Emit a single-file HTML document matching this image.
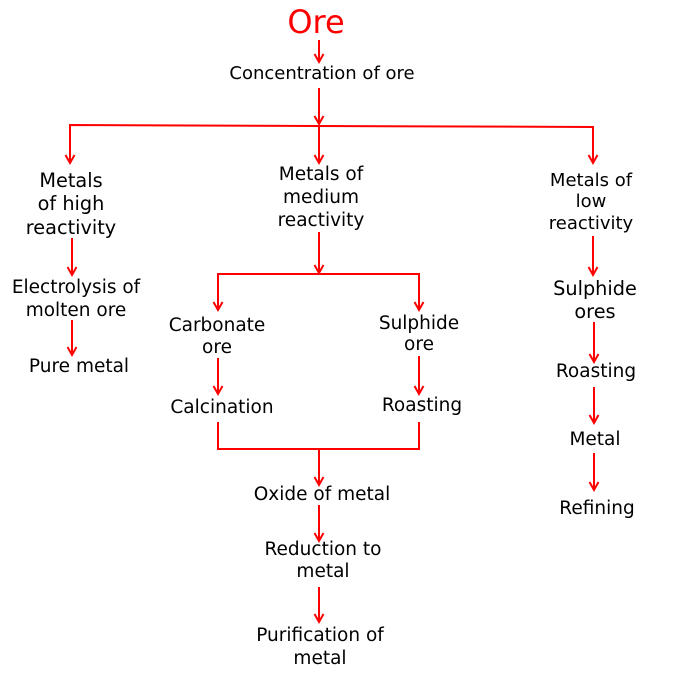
<!DOCTYPE html>
<html><head><meta charset="utf-8"><style>
html,body{margin:0;padding:0;background:#fff;}
svg{display:block;}
text{font-family:"DejaVu Sans","Liberation Sans",sans-serif;fill:#000;text-anchor:middle;}
.s16{font-size:18px}.s17{font-size:18.5px}.s18{font-size:19.3px}
</style></head><body>
<svg width="673" height="691" viewBox="0 0 673 691" xmlns="http://www.w3.org/2000/svg">
<g stroke="#f00" stroke-width="2" fill="none">
<line x1="319" y1="40" x2="319" y2="62"/>
<line x1="319" y1="88" x2="319" y2="124"/>
<polyline points="70,163 70,125 593,127 593,163"/>
<line x1="319" y1="125" x2="319" y2="163"/>
<line x1="72" y1="238" x2="72" y2="275"/>
<line x1="72" y1="320" x2="72" y2="355"/>
<line x1="319" y1="232" x2="319" y2="273"/>
<polyline points="218,310 218,274 419,274 419,310"/>
<line x1="218" y1="358" x2="218" y2="394"/>
<line x1="419" y1="356" x2="419" y2="394"/>
<polyline points="218,422 218,449 419,449 419,422"/>
<line x1="319" y1="449" x2="319" y2="485"/>
<line x1="319" y1="505" x2="319" y2="541"/>
<line x1="319" y1="587" x2="319" y2="622"/>
<line x1="593" y1="236" x2="593" y2="275"/>
<line x1="594" y1="322" x2="594" y2="362"/>
<line x1="594" y1="387" x2="594" y2="423"/>
<line x1="594" y1="453" x2="594" y2="490"/>
</g>
<g stroke="#f00" stroke-width="2" fill="none">
<path d="M314.5,54 L319,62 L323.5,54"/>
<path d="M314.5,116 L319,124 L323.5,116"/>
<path d="M65.5,155 L70,163 L74.5,155"/>
<path d="M314.5,155 L319,163 L323.5,155"/>
<path d="M588.5,155 L593,163 L597.5,155"/>
<path d="M67.5,267 L72,275 L76.5,267"/>
<path d="M67.5,347 L72,355 L76.5,347"/>
<path d="M314.5,265 L319,273 L323.5,265"/>
<path d="M213.5,302 L218,310 L222.5,302"/>
<path d="M414.5,302 L419,310 L423.5,302"/>
<path d="M213.5,386 L218,394 L222.5,386"/>
<path d="M414.5,386 L419,394 L423.5,386"/>
<path d="M314.5,477 L319,485 L323.5,477"/>
<path d="M314.5,533 L319,541 L323.5,533"/>
<path d="M314.5,614 L319,622 L323.5,614"/>
<path d="M588.5,267 L593,275 L597.5,267"/>
<path d="M589.5,354 L594,362 L598.5,354"/>
<path d="M589.5,415 L594,423 L598.5,415"/>
<path d="M589.5,482 L594,490 L598.5,482"/>
</g>
<text x="316" y="33" style="font-size:32px;fill:#f00">Ore</text>
<text x="322" y="79" class="s16">Concentration of ore</text>
<g class="s18">
<text x="71" y="187">Metals</text><text x="71" y="210">of high</text><text x="71" y="234">reactivity</text>
</g>
<g class="s17">
<text x="321" y="180">Metals of</text><text x="321" y="203">medium</text><text x="321" y="226">reactivity</text>
</g>
<g class="s16">
<text x="591" y="186">Metals of</text><text x="591" y="207">low</text><text x="591" y="229">reactivity</text>
</g>
<g class="s17">
<text x="76" y="293">Electrolysis of</text><text x="76" y="316">molten ore</text>
<text x="79" y="372">Pure metal</text>
<text x="217" y="331">Carbonate</text><text x="217" y="353">ore</text>
<text x="419" y="329">Sulphide</text><text x="419" y="350">ore</text>
<text x="222" y="413">Calcination</text>
<text x="422" y="411">Roasting</text>
<text x="322" y="500">Oxide of metal</text>
<text x="323" y="555">Reduction to</text><text x="323" y="577">metal</text>
<text x="320" y="641">Purification of</text><text x="320" y="664">metal</text>
<text x="596" y="377">Roasting</text>
<text x="595" y="445">Metal</text>
<text x="597" y="514">Refining</text>
</g>
<g class="s18">
<text x="595" y="295">Sulphide</text><text x="595" y="318">ores</text>
</g>
</svg>
</body></html>
